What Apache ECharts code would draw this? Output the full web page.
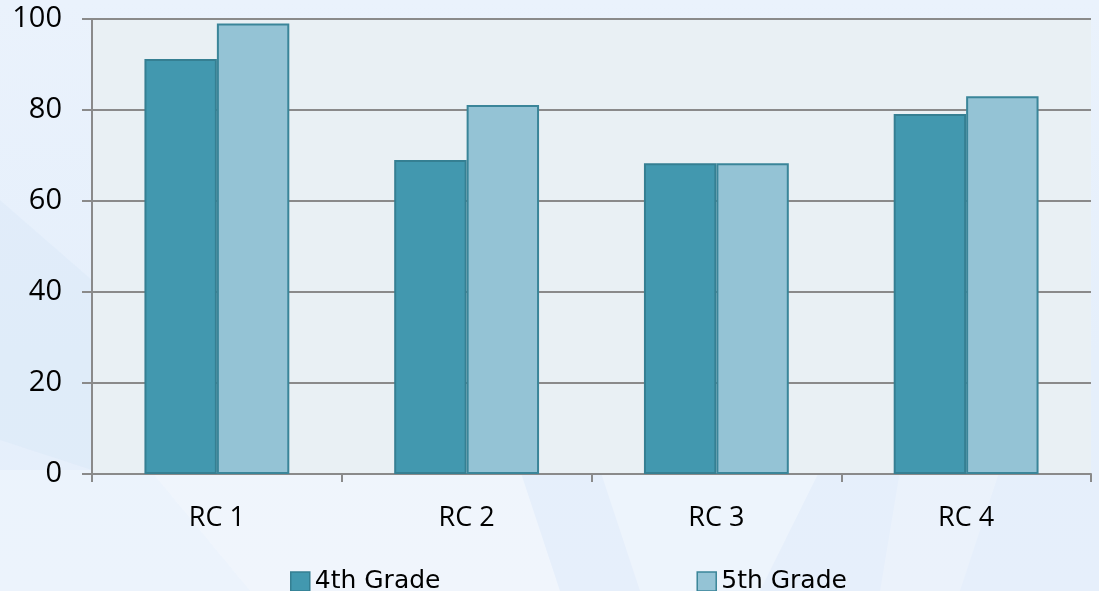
<!DOCTYPE html>
<html><head><meta charset="utf-8">
<script src="https://cdn.jsdelivr.net/npm/echarts@6/dist/echarts.min.js"></script>
<style>html,body{margin:0;padding:0;}#c{width:1099px;height:591px;}</style>
</head><body><div id="c"></div>
<script>
const categories = ['RC 1', 'RC 2', 'RC 3', 'RC 4'];
const grade4 = [91.2, 69, 68.3, 79.1];
const grade5 = [99, 81.1, 68.3, 83];
const yTicks = [0, 20, 40, 60, 80, 100];

const chart = echarts.init(document.getElementById('c'));
chart.setOption({
  backgroundColor: {
    type: 'linear', x: 0, y: 0, x2: 0, y2: 1,
    colorStops: [{offset: 0, color: '#EAF2FC'}, {offset: 0.6, color: '#E5EFFB'}, {offset: 1, color: '#E6EFFB'}]
  },
  animation: false,
  graphic: [
    {type: 'polygon', z: -5, silent: true, shape: {points: [[0, 470], [150, 470], [250, 591], [0, 591]]}, style: {fill: 'rgba(255,255,255,0.25)'}},
    {type: 'polygon', z: -5, silent: true, shape: {points: [[150, 470], [520, 470], [560, 591], [250, 591]]}, style: {fill: 'rgba(255,255,255,0.4)'}},
    {type: 'polygon', z: -5, silent: true, shape: {points: [[600, 470], [820, 470], [760, 591], [640, 591]]}, style: {fill: 'rgba(255,255,255,0.3)'}},
    {type: 'polygon', z: -5, silent: true, shape: {points: [[900, 470], [1000, 470], [960, 591], [880, 591]]}, style: {fill: 'rgba(255,255,255,0.2)'}},
    {type: 'polygon', z: -5, silent: true, shape: {points: [[0, 200], [92, 280], [92, 470], [0, 440]]}, style: {fill: 'rgba(200,220,245,0.18)'}}
  ],
  grid: {left: 92, right: 8, top: 19, bottom: 117, show: true, backgroundColor: '#E9F0F4', borderWidth: 0},
  legend: {
    left: 285, top: 564, itemWidth: 19, itemHeight: 19, itemGap: 256, icon: 'rect',
    textStyle: {fontFamily: 'DejaVu Sans', fontSize: 25, color: '#000'},
    data: [
      {name: '4th Grade', itemStyle: {borderColor: '#357F92', borderWidth: 1.5}},
      {name: '5th Grade', itemStyle: {borderColor: '#3A8599', borderWidth: 1.5}}
    ]
  },
  xAxis: {
    type: 'category', data: categories,
    axisLine: {lineStyle: {color: '#8A8A8A', width: 2}},
    axisTick: {show: true, length: 8, lineStyle: {color: '#8A8A8A', width: 2}},
    axisLabel: {fontFamily: 'Open Sans', fontSize: 27, color: '#000', margin: 31}
  },
  yAxis: {
    type: 'value', min: 0, max: 100, interval: 20,
    axisLine: {show: true, lineStyle: {color: '#8A8A8A', width: 2}},
    axisTick: {show: true, length: 10, lineStyle: {color: '#8A8A8A', width: 2}},
    splitLine: {lineStyle: {color: '#8A8A8A', width: 2}},
    axisLabel: {fontFamily: 'Open Sans', fontSize: 29, color: '#000', margin: 30,
      formatter: v => yTicks.includes(v) ? String(v) : ''}
  },
  series: [
    {name: '4th Grade', type: 'bar', data: grade4, barGap: '0%', barCategoryGap: '42%',
     itemStyle: {color: '#4298AF', borderColor: '#357F92', borderWidth: 2}},
    {name: '5th Grade', type: 'bar', data: grade5,
     itemStyle: {color: '#94C3D5', borderColor: '#3A8599', borderWidth: 2}}
  ]
});
</script></body></html>
